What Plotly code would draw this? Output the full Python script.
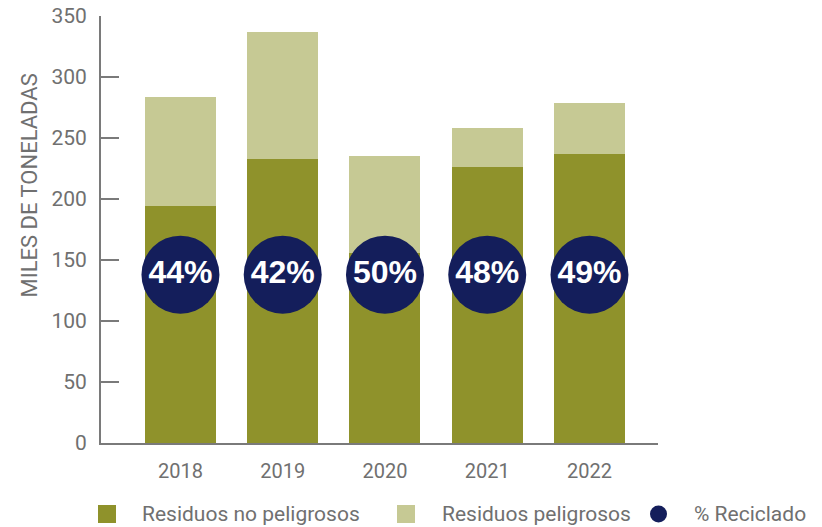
import plotly.graph_objects as go

## Data
years = ["2018", "2019", "2020", "2021", "2022"]
no_peligrosos = [194, 233, 156, 226, 237]   # miles de toneladas
peligrosos = [90, 104, 79, 32, 42]          # stacked on top
reciclado = [44, 42, 50, 48, 49]            # % reciclado
y_ticks = [0, 50, 100, 150, 200, 250, 300, 350]
legend_labels = ["Residuos no peligrosos", "Residuos peligrosos", "% Reciclado"]

# Colours / fonts
OLIVE = "#8F922B"
LIGHT = "#C6C994"
NAVY = "#141E5B"
GREY_TXT = "#707070"
GREY_AX = "#7A7A7A"
FONT = "Roboto, 'Liberation Sans', sans-serif"

# Page geometry (pixels); body margin is removed so the figure fills the window
W, H = 822, 527
# plot area in page pixels: x 101..658, y 16..443
M_L, M_R, M_T, M_B = 101, W - 658, 16, H - 443
PW, PH = W - M_L - M_R, H - M_T - M_B

def px_x(p):
    # page pixel -> paper x
    return (p - M_L) / PW

def px_y(p):
    # page pixel -> paper y
    return (H - M_B - p) / PH

x_pos = list(range(len(years)))
CIRCLE_LEVEL = 138

fig = go.Figure()

fig.add_trace(go.Bar(
    x=x_pos, y=no_peligrosos, name=legend_labels[0],
    marker=dict(color=OLIVE, line_width=0), width=0.694,
    showlegend=False, hoverinfo="y",
))
fig.add_trace(go.Bar(
    x=x_pos, y=peligrosos, name=legend_labels[1],
    marker=dict(color=LIGHT, line_width=0), width=0.694,
    showlegend=False, hoverinfo="y",
))
fig.add_trace(go.Scatter(
    x=x_pos, y=[CIRCLE_LEVEL] * len(years), name=legend_labels[2],
    mode="markers+text",
    marker=dict(size=78, color=NAVY, line_width=0),
    text=[f"{v}%" for v in reciclado],
    textposition="middle center",
    textfont=dict(family="'Liberation Sans', Arial, sans-serif", size=32,
                  color="white", weight="bold"),
    showlegend=False, hoverinfo="text",
))

fig.update_layout(
    barmode="stack",
    width=W, height=H,
    margin=dict(l=M_L, r=M_R, t=M_T, b=M_B, autoexpand=False),
    plot_bgcolor="white", paper_bgcolor="white",
    font=dict(family=FONT, color=GREY_TXT),
    showlegend=False,
)

fig.update_xaxes(
    range=[-0.777, 4.67],
    tickvals=x_pos, ticktext=years,
    tickfont=dict(size=20, color=GREY_TXT),
    showline=True, linecolor=GREY_AX, linewidth=2,
    ticks="", showgrid=False, zeroline=False,
    ticklabelstandoff=9,
)
fig.update_yaxes(
    range=[0, 350.02],
    tickvals=y_ticks,
    tickfont=dict(size=21, color=GREY_TXT),
    showline=True, linecolor=GREY_AX, linewidth=2,
    ticks="inside", ticklen=18, tickwidth=2, tickcolor=GREY_AX,
    showgrid=False, zeroline=False,
    ticklabelstandoff=8, ticklabeloverflow="allow",
)

# Y axis title (sits above the plot middle in the reference)
fig.add_annotation(
    text="MILES DE TONELADAS", textangle=-90,
    x=px_x(28.5), y=px_y(186), xref="paper", yref="paper",
    xanchor="center", yanchor="middle", showarrow=False,
    font=dict(size=22, color=GREY_TXT, family=FONT),
)

# Hand-made legend along the bottom
leg_y = 514
half = 9
fig.add_shape(type="rect", xref="paper", yref="paper",
              x0=px_x(98), x1=px_x(116), y0=px_y(leg_y + half), y1=px_y(leg_y - half),
              fillcolor=OLIVE, line_width=0)
fig.add_shape(type="rect", xref="paper", yref="paper",
              x0=px_x(397), x1=px_x(415), y0=px_y(leg_y + half), y1=px_y(leg_y - half),
              fillcolor=LIGHT, line_width=0)
fig.add_shape(type="circle", xref="paper", yref="paper",
              x0=px_x(650), x1=px_x(667), y0=px_y(leg_y + 8.5), y1=px_y(leg_y - 8.5),
              fillcolor=NAVY, line_width=0)
for label, xs in zip(legend_labels, [140, 440, 692]):
    fig.add_annotation(
        text=label, x=px_x(xs), y=px_y(leg_y), xref="paper", yref="paper",
        xanchor="left", yanchor="middle", showarrow=False,
        font=dict(size=21, color=GREY_TXT, family=FONT),
    )

# drop the default 8px body margin so the figure sits at the window corner
fig.write_html("out.html", config={"displayModeBar": False},
               post_script="document.body.style.margin = '0';")
